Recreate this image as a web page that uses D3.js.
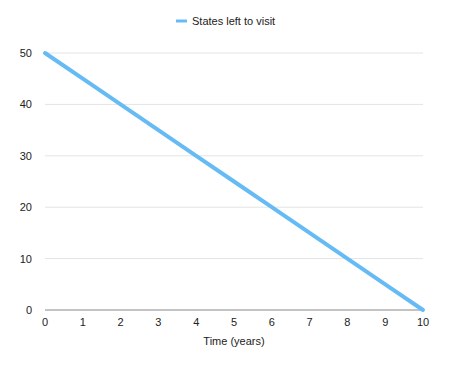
<!DOCTYPE html>
<html>
<head>
<meta charset="utf-8">
<script src="https://cdn.jsdelivr.net/npm/d3@7"></script>
<style>
  body { margin: 0; background: #fff; }
  text { font-family: "Liberation Sans", Arial, sans-serif; fill: #222; }
</style>
</head>
<body>
<svg id="chart" width="450" height="366"></svg>
<script>
const years = [0, 1, 2, 3, 4, 5, 6, 7, 8, 9, 10];
const statesLeft = [50, 45, 40, 35, 30, 25, 20, 15, 10, 5, 0];
const yTicks = [0, 10, 20, 30, 40, 50];
const seriesName = 'States left to visit';
const xTitle = 'Time (years)';

const svg = d3.select('#chart');
const plotLeft = 45;
const plotRight = 423;
const plotTop = 53;
const plotBottom = 310;
const blue = '#66bbf5';

const x = d3.scaleLinear().domain([0, 10]).range([plotLeft, plotRight]);
const y = d3.scaleLinear().domain([0, 50]).range([plotBottom, plotTop]);

// gridlines
svg.append('g')
  .selectAll('line')
  .data(yTicks.filter((d) => d !== 0))
  .enter()
    .append('line')
    .attr('x1', plotLeft)
    .attr('x2', plotRight)
    .attr('y1', (d) => y(d))
    .attr('y2', (d) => y(d))
    .attr('stroke', '#e4e4e4')
    .attr('stroke-width', 1);

// y labels
svg.append('g')
  .selectAll('text')
  .data(yTicks)
  .enter()
    .append('text')
    .attr('x', 32)
    .attr('y', (d) => y(d) + 4)
    .attr('text-anchor', 'end')
    .attr('font-size', 11)
    .text((d) => d);

// baseline
svg.append('line')
  .attr('x1', plotLeft)
  .attr('x2', plotRight)
  .attr('y1', y(0))
  .attr('y2', y(0))
  .attr('stroke', '#888')
  .attr('stroke-width', 1);

// x labels
svg.append('g')
  .selectAll('text')
  .data(years)
  .enter()
    .append('text')
    .attr('x', (d) => x(d))
    .attr('y', 326)
    .attr('text-anchor', 'middle')
    .attr('font-size', 11)
    .text((d) => d);

svg.append('text')
  .attr('x', (plotLeft + plotRight) / 2)
  .attr('y', 345)
  .attr('text-anchor', 'middle')
  .attr('font-size', 11)
  .text(xTitle);

// series line
const line = d3.line()
  .x((d, i) => x(years[i]))
  .y((d) => y(d));

svg.append('path')
  .datum(statesLeft)
  .attr('d', line)
  .attr('fill', 'none')
  .attr('stroke', blue)
  .attr('stroke-width', 4)
  .attr('stroke-linecap', 'round');

// legend
svg.append('line')
  .attr('x1', 176)
  .attr('x2', 187)
  .attr('y1', 21)
  .attr('y2', 21)
  .attr('stroke', blue)
  .attr('stroke-width', 3);

svg.append('text')
  .attr('x', 192)
  .attr('y', 25)
  .attr('font-size', 11)
  .text(seriesName);
</script>
</body>
</html>
